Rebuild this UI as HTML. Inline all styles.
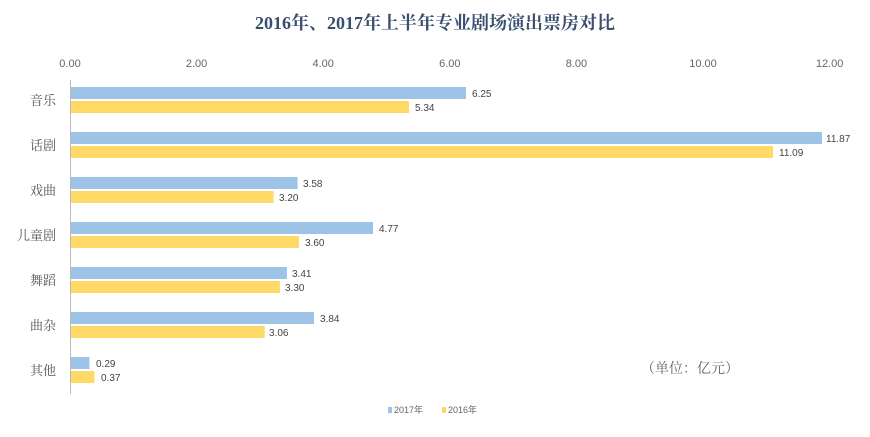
<!DOCTYPE html>
<html><head><meta charset="utf-8"><style>
body{margin:0;background:#fff;}
svg text{font-family:"Liberation Sans","Noto Sans CJK SC",sans-serif;}
svg text.sf{font-family:"Liberation Serif","Noto Serif CJK SC",serif;}
</style></head><body>
<svg width="870" height="432" viewBox="0 0 870 432">
<text class="sf" x="435" y="29" text-anchor="middle" font-size="18" font-weight="bold" fill="#3a4e6e">2016年、2017年上半年专业剧场演出票房对比</text>
<g font-size="11" fill="#666" text-anchor="middle">
<text x="70" y="67">0.00</text><text x="196.6" y="67">2.00</text><text x="323.2" y="67">4.00</text><text x="449.8" y="67">6.00</text><text x="576.4" y="67">8.00</text><text x="703" y="67">10.00</text><text x="829.6" y="67">12.00</text>
</g>
<line x1="70.5" y1="80" x2="70.5" y2="394" stroke="#bbb" stroke-width="1"/>
<g font-size="13" fill="#555" text-anchor="end">
<text class="sf" x="56" y="105">音乐</text><text class="sf" x="56" y="150">话剧</text><text class="sf" x="56" y="195">戏曲</text><text class="sf" x="56" y="240">儿童剧</text><text class="sf" x="56" y="285">舞蹈</text><text class="sf" x="56" y="330">曲杂</text><text class="sf" x="56" y="375">其他</text>
</g>
<g fill="#9dc3e6">
<rect x="71" y="87" width="395" height="12"/>
<rect x="71" y="132" width="751" height="12"/>
<rect x="71" y="177" width="226.6" height="12"/>
<rect x="71" y="222" width="302" height="12"/>
<rect x="71" y="267" width="215.9" height="12"/>
<rect x="71" y="312" width="243" height="12"/>
<rect x="71" y="357" width="18.4" height="12"/>
</g>
<g fill="#ffd966">
<rect x="71" y="101" width="338" height="12"/>
<rect x="71" y="146" width="702" height="12"/>
<rect x="71" y="191" width="202.6" height="12"/>
<rect x="71" y="236" width="227.9" height="12"/>
<rect x="71" y="281" width="208.9" height="12"/>
<rect x="71" y="326" width="193.7" height="12"/>
<rect x="71" y="371" width="23.4" height="12"/>
</g>
<g font-size="10" fill="#444">
<text x="472" y="97">6.25</text><text x="415" y="111">5.34</text>
<text x="826" y="142">11.87</text><text x="779" y="156">11.09</text>
<text x="303" y="187">3.58</text><text x="279" y="201">3.20</text>
<text x="379" y="232">4.77</text><text x="305" y="246">3.60</text>
<text x="292" y="277">3.41</text><text x="285" y="291">3.30</text>
<text x="320" y="322">3.84</text><text x="269" y="336">3.06</text>
<text x="96" y="367">0.29</text><text x="101" y="381">0.37</text>
</g>
<text class="sf" x="641" y="373" font-size="14" fill="#666">（单位：亿元）</text>
<rect x="388" y="407" width="4" height="6" fill="#9dc3e6"/>
<text x="394" y="413" font-size="9" fill="#666">2017年</text>
<rect x="442" y="407" width="4" height="6" fill="#ffd966"/>
<text x="448" y="413" font-size="9" fill="#666">2016年</text>
</svg>
</body></html>
